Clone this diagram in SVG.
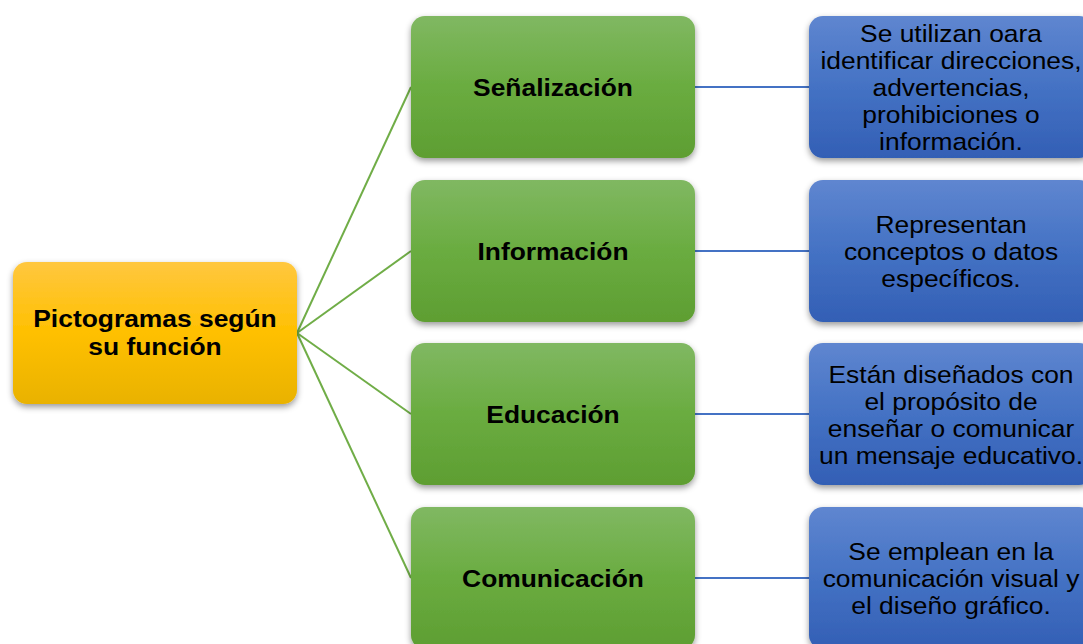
<svg xmlns="http://www.w3.org/2000/svg" width="1083" height="644" viewBox="0 0 1083 644">
<defs>
<linearGradient id="gY" x1="0" y1="0" x2="0" y2="1"><stop offset="0" stop-color="#ffc73f"/><stop offset="0.5" stop-color="#ffc000"/><stop offset="1" stop-color="#e9b200"/></linearGradient>
<linearGradient id="gG" x1="0" y1="0" x2="0" y2="1"><stop offset="0" stop-color="#80b862"/><stop offset="0.5" stop-color="#6aac40"/><stop offset="1" stop-color="#5e9e32"/></linearGradient>
<linearGradient id="gB" x1="0" y1="0" x2="0" y2="1"><stop offset="0" stop-color="#5f86d0"/><stop offset="0.5" stop-color="#4472c4"/><stop offset="1" stop-color="#335fb5"/></linearGradient>
<filter id="sh" x="-10%" y="-10%" width="125%" height="130%"><feDropShadow dx="0" dy="3" stdDeviation="3" flood-color="#000" flood-opacity="0.4"/></filter>
</defs>
<style>
.t{font-family:"Liberation Sans",Arial,sans-serif;font-size:24px;fill:#000;text-anchor:middle}
.b{font-weight:bold}
.cg{stroke:#70ad47;stroke-width:2;fill:none}
.cb{stroke:#4472c4;stroke-width:2;fill:none}
</style>
<g id="connectors">
<line class="cg" x1="297" y1="333" x2="411" y2="87"/>
<line class="cg" x1="297" y1="333" x2="411" y2="251"/>
<line class="cg" x1="297" y1="333" x2="411" y2="414"/>
<line class="cg" x1="297" y1="333" x2="411" y2="578"/>
<line class="cb" x1="695" y1="87" x2="809" y2="87"/>
<line class="cb" x1="695" y1="251" x2="809" y2="251"/>
<line class="cb" x1="695" y1="414" x2="809" y2="414"/>
<line class="cb" x1="695" y1="578" x2="809" y2="578"/>
</g>
<g id="root">
<rect x="13" y="262" width="284" height="142" rx="14" fill="url(#gY)" filter="url(#sh)"/>
<g transform="translate(155,0) scale(1.1,1)">
<text class="t b" x="0" y="327">Pictogramas según</text>
<text class="t b" x="0" y="355">su función</text>
</g>
</g>
<g id="n1">
<rect x="411" y="16" width="284" height="142" rx="14" fill="url(#gG)" filter="url(#sh)"/>
<text class="t b" transform="translate(553,0) scale(1.1,1)" x="0" y="96">Señalización</text>
</g>
<g id="n2">
<rect x="411" y="180" width="284" height="142" rx="14" fill="url(#gG)" filter="url(#sh)"/>
<text class="t b" transform="translate(553,0) scale(1.1,1)" x="0" y="260">Información</text>
</g>
<g id="n3">
<rect x="411" y="343" width="284" height="142" rx="14" fill="url(#gG)" filter="url(#sh)"/>
<text class="t b" transform="translate(553,0) scale(1.1,1)" x="0" y="423">Educación</text>
</g>
<g id="n4">
<rect x="411" y="507" width="284" height="142" rx="14" fill="url(#gG)" filter="url(#sh)"/>
<text class="t b" transform="translate(553,0) scale(1.1,1)" x="0" y="587">Comunicación</text>
</g>
<g id="d1">
<rect x="809" y="16" width="284" height="142" rx="14" fill="url(#gB)" filter="url(#sh)"/>
<g transform="translate(951,0) scale(1.1,1)">
<text class="t" x="0" y="42">Se utilizan oara</text>
<text class="t" x="0" y="69">identificar direcciones,</text>
<text class="t" x="0" y="96">advertencias,</text>
<text class="t" x="0" y="123">prohibiciones o</text>
<text class="t" x="0" y="150">información.</text>
</g>
</g>
<g id="d2">
<rect x="809" y="180" width="284" height="142" rx="14" fill="url(#gB)" filter="url(#sh)"/>
<g transform="translate(951,0) scale(1.1,1)">
<text class="t" x="0" y="233">Representan</text>
<text class="t" x="0" y="260">conceptos o datos</text>
<text class="t" x="0" y="287">específicos.</text>
</g>
</g>
<g id="d3">
<rect x="809" y="343" width="284" height="142" rx="14" fill="url(#gB)" filter="url(#sh)"/>
<g transform="translate(951,0) scale(1.1,1)">
<text class="t" x="0" y="383">Están diseñados con</text>
<text class="t" x="0" y="410">el propósito de</text>
<text class="t" x="0" y="437">enseñar o comunicar</text>
<text class="t" x="0" y="464">un mensaje educativo.</text>
</g>
</g>
<g id="d4">
<rect x="809" y="507" width="284" height="142" rx="14" fill="url(#gB)" filter="url(#sh)"/>
<g transform="translate(951,0) scale(1.1,1)">
<text class="t" x="0" y="560">Se emplean en la</text>
<text class="t" x="0" y="587">comunicación visual y</text>
<text class="t" x="0" y="614">el diseño gráfico.</text>
</g>
</g>
</svg>
